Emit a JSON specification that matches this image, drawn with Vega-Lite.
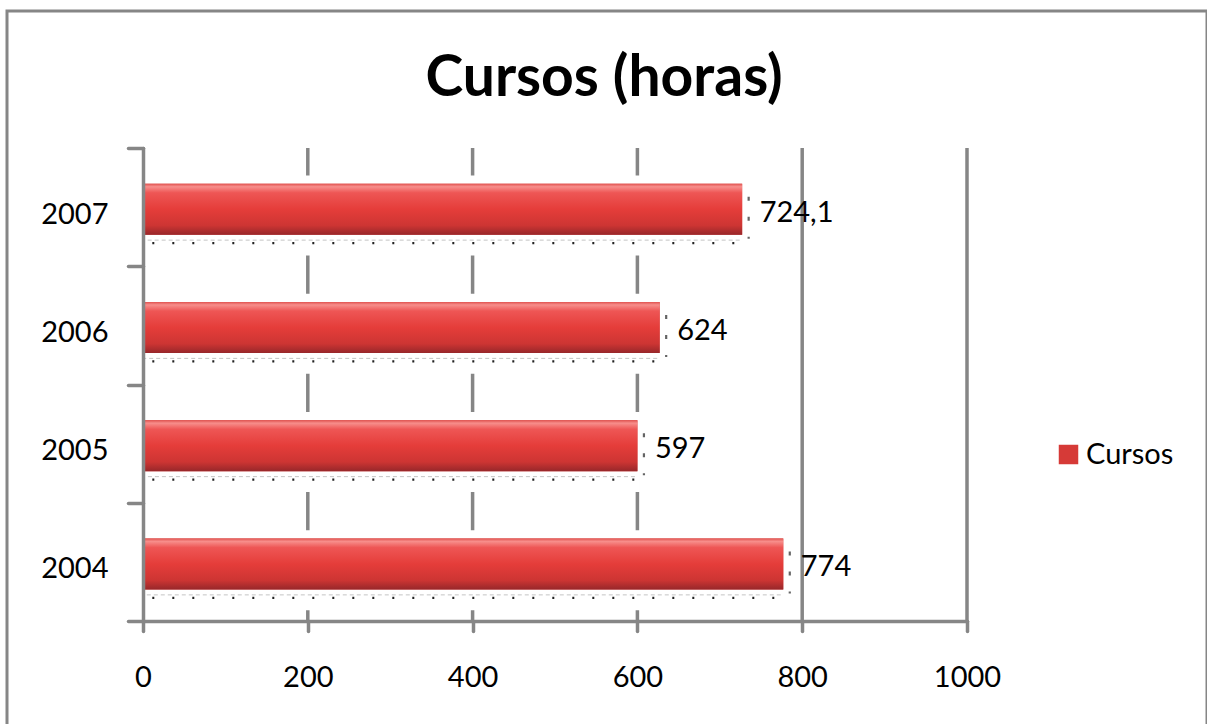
{
  "$schema": "https://vega.github.io/schema/vega-lite/v6.json",
  "width": 1200,
  "height": 720,
  "autosize": {"type": "none"},
  "padding": {"left": 7, "top": 11, "right": 0, "bottom": 0},
  "background": "white",
  "config": {
    "view": {"stroke": "#868686", "strokeWidth": 3},
    "font": "Lato"
  },
  "title": {
    "text": "Cursos (horas)",
    "font": "Lato",
    "fontWeight": "bold",
    "fontSize": 57,
    "color": "black",
    "anchor": "middle",
    "frame": "group",
    "baseline": "alphabetic",
    "offset": -165,
    "dx": -3
  },
  "resolve": {"scale": {"y": "independent"}},
  "layer": [
    {
      "data": {"values": [{"g": 200}, {"g": 400}, {"g": 600}, {"g": 800}, {"g": 1000}]},
      "mark": {"type": "rule", "stroke": "#868686", "strokeWidth": 3.5},
      "encoding": {
        "x": {"field": "g", "type": "quantitative", "title": null,
              "scale": {"domain": [0, 1000], "range": [136, 960], "nice": false, "zero": false}},
        "y": {"datum": 0, "type": "quantitative", "axis": null,
              "scale": {"domain": [0, 1], "range": [137, 610], "nice": false, "zero": false}},
        "y2": {"datum": 1}
      }
    },
    {
      "data": {"values": [
        {"year": "2007", "horas": 724.1, "label": "724,1", "serie": "Cursos"},
        {"year": "2006", "horas": 624, "label": "624", "serie": "Cursos"},
        {"year": "2005", "horas": 597, "label": "597", "serie": "Cursos"},
        {"year": "2004", "horas": 774, "label": "774", "serie": "Cursos"}
      ]},
      "encoding": {
        "y": {"field": "year", "type": "nominal", "sort": ["2007", "2006", "2005", "2004"],
              "scale": {"domain": ["2007", "2006", "2005", "2004"], "range": [137, 610], "paddingInner": 0, "paddingOuter": 0},
              "axis": {
                "title": null, "orient": "left", "offset": -136, "zindex": 1,
                "domainColor": "#868686", "domainWidth": 3.5, "domainCap": "round",
                "tickColor": "#868686", "tickWidth": 3.5, "tickSize": 15, "tickCap": "round", "tickBand": "extent",
                "labelFont": "Lato", "labelFontSize": 29, "labelColor": "black",
                "labelPadding": 20, "labelBaseline": "alphabetic", "labelOffset": 16, "grid": false
              }}
      },
      "layer": [
        {
          "mark": {"type": "bar", "color": "white", "height": 80, "yOffset": 8.3, "xOffset": 5},
          "encoding": {
            "x": {"field": "horas", "type": "quantitative", "title": null, "stack": null,
                  "scale": {"domain": [0, 1000], "range": [136, 960], "nice": false, "zero": false},
                  "axis": {
                    "title": null, "orient": "bottom", "offset": -110, "zindex": 1,
                    "values": [0, 200, 400, 600, 800, 1000], "format": "d",
                    "domainColor": "#868686", "domainWidth": 3.5, "domainCap": "round",
                    "tickColor": "#868686", "tickWidth": 3.5, "tickSize": 10, "tickCap": "round",
                    "labelFont": "Lato", "labelFontSize": 29, "labelColor": "black",
                    "labelPadding": 55, "labelBaseline": "alphabetic", "labelFlush": false, "grid": false
                  }},
            "x2": {"datum": 0}
          }
        },
        {
          "mark": {"type": "bar", "height": 51, "yOffset": 2, "xOffset": 2.5},
          "encoding": {
            "x": {"field": "horas", "type": "quantitative", "title": null, "stack": null},
            "x2": {"datum": 0},
            "fill": {"field": "serie", "type": "nominal",
                     "scale": {"domain": ["Cursos"], "range": ["#d63a37"]},
                     "legend": {
                       "title": null, "orient": "none", "legendX": 1047, "legendY": 429,
                       "symbolType": "square", "symbolSize": 380, "symbolStrokeWidth": 0,
                       "labelFont": "Lato", "labelFontSize": 29, "labelColor": "black", "labelOffset": 3
                     }}
          }
        },
        {
          "mark": {
            "type": "bar", "height": 51, "yOffset": 2, "xOffset": 2.5,
            "fill": {
              "gradient": "linear", "x1": 0, "y1": 0, "x2": 0, "y2": 1,
              "stops": [
                {"offset": 0, "color": "#e0504d"},
                {"offset": 0.06, "color": "#f78e8b"},
                {"offset": 0.18, "color": "#ee5655"},
                {"offset": 0.5, "color": "#e53d3a"},
                {"offset": 0.82, "color": "#cd3533"},
                {"offset": 1, "color": "#98272a"}
              ]
            }
          },
          "encoding": {
            "x": {"field": "horas", "type": "quantitative", "title": null, "stack": null},
            "x2": {"datum": 0}
          }
        },
        {
          "mark": {"type": "rule", "yOffset": 33, "stroke": "#c4c4c4", "strokeWidth": 1, "strokeDash": [4, 3]},
          "encoding": {
            "x": {"field": "horas", "type": "quantitative", "title": null, "stack": null},
            "x2": {"datum": 0}
          }
        },
        {
          "mark": {"type": "rule", "yOffset": 36, "stroke": "#222222", "strokeWidth": 2.2, "strokeDash": [2, 18], "strokeDashOffset": 10.7},
          "encoding": {
            "x2": {"field": "horas", "type": "quantitative"},
            "x": {"datum": 0, "type": "quantitative", "title": null}
          }
        },
        {
          "mark": {"type": "tick", "orient": "vertical", "size": 42, "thickness": 0, "filled": false,
                   "stroke": "#222222", "strokeWidth": 2.2, "strokeDash": [2, 18], "xOffset": 9, "yOffset": 10.5},
          "encoding": {
            "x": {"field": "horas", "type": "quantitative", "title": null}
          }
        },
        {
          "mark": {"type": "text", "align": "left", "baseline": "alphabetic", "dx": 20, "dy": 14.5,
                   "font": "Lato", "fontSize": 29, "color": "black"},
          "encoding": {
            "x": {"field": "horas", "type": "quantitative", "title": null},
            "text": {"field": "label", "type": "nominal"}
          }
        }
      ]
    }
  ]
}
